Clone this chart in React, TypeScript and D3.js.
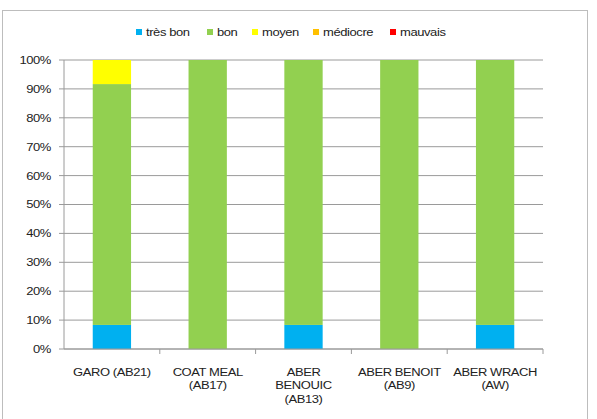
import React from "react";
import * as d3 from "d3";

// Stations along the x axis
const categories = ["GARO (AB21)", "COAT MEAL (AB17)", "ABER BENOUIC (AB13)", "ABER BENOIT (AB9)", "ABER WRACH (AW)"];
// Wrapped label lines per station
const categoryLines = [
  ["GARO (AB21)"],
  ["COAT MEAL", "(AB17)"],
  ["ABER", "BENOUIC", "(AB13)"],
  ["ABER BENOIT", "(AB9)"],
  ["ABER WRACH", "(AW)"],
];
// Quality classes (stacking order bottom → top)
const seriesNames = ["très bon", "bon", "moyen", "médiocre", "mauvais"];
const seriesColors = ["#00B0F0", "#92D050", "#FFFF00", "#FFC000", "#FF0000"];
// Share of each class per station (%)
const tresBon = [8.33, 0, 8.33, 0, 8.33];
const bon = [83.34, 100, 91.67, 100, 91.67];
const moyen = [8.33, 0, 0, 0, 0];
const mediocre = [0, 0, 0, 0, 0];
const mauvais = [0, 0, 0, 0, 0];
const yTicks = [0, 10, 20, 30, 40, 50, 60, 70, 80, 90, 100];

const W = 597;
const H = 419;
const FONT = "'Liberation Sans', Arial, sans-serif";
const SX = 1.15; // horizontal stretch of the lettering

function Label({ x, y, anchor = "start", children }: { x: number; y: number; anchor?: string; children: React.ReactNode }) {
  return (
    <g transform={`translate(${x},${y}) scale(${SX},1)`}>
      <text textAnchor={anchor} dy="0.35em" fontFamily={FONT} fontSize={11.3} fill="#222" letterSpacing={-0.35}>
        {children}
      </text>
    </g>
  );
}

export default function App() {
  const left = 64;
  const right = 543;
  const top = 60;
  const bottom = 349;

  const x = d3.scaleBand<string>().domain(categories).range([left, right]).paddingInner(0.6).paddingOuter(0.3);
  const band = d3.scaleBand<string>().domain(categories).range([left, right]);
  const y = d3.scaleLinear().domain([0, 100]).range([bottom, top]);

  const rows = categories.map((c, i) => ({
    cat: c,
    "très bon": tresBon[i],
    bon: bon[i],
    moyen: moyen[i],
    "médiocre": mediocre[i],
    mauvais: mauvais[i],
  }));
  const stacked = d3.stack<any>().keys(seriesNames)(rows);

  // legend layout
  const legendX = [136, 207, 252, 313, 390];
  const legendY = 32;

  return (
    <svg width={W} height={H} style={{ position: "absolute", left: 0, top: 0, background: "#fff" }}>
      <rect x={2.5} y={10.5} width={585} height={420} fill="#fff" stroke="#bdbdbd" strokeWidth={1} />

      {/* gridlines */}
      {yTicks.map((t) => (
        <g key={t}>
          <line x1={left - 5} x2={right} y1={y(t)} y2={y(t)} stroke="#9a9a9a" strokeWidth={1} />
          <Label x={51} y={y(t)} anchor="end">{t}%</Label>
        </g>
      ))}

      {/* bars */}
      {stacked.map((s, si) => (
        <g key={s.key} fill={seriesColors[si]}>
          {s.map((d, i) =>
            d[1] - d[0] > 0 ? (
              <rect key={i} x={x(categories[i])} width={x.bandwidth()} y={y(d[1])} height={y(d[0]) - y(d[1])} />
            ) : null
          )}
        </g>
      ))}

      {/* axes */}
      <line x1={left} x2={left} y1={top} y2={bottom} stroke="#9a9a9a" />
      <line x1={left} x2={right} y1={bottom} y2={bottom} stroke="#9a9a9a" />
      {categories.map((c) => (
        <line key={c} x1={(band(c) as number) + band.bandwidth()} x2={(band(c) as number) + band.bandwidth()} y1={bottom} y2={bottom + 5} stroke="#9a9a9a" />
      ))}

      {/* category labels */}
      {categories.map((c, i) =>
        categoryLines[i].map((ln, li) => (
          <Label key={c + li} x={(band(c) as number) + band.bandwidth() / 2} y={372 + li * 13.5} anchor="middle">
            {ln}
          </Label>
        ))
      )}

      {/* legend */}
      {seriesNames.map((n, i) => (
        <g key={n}>
          <rect x={legendX[i]} y={legendY - 3} width={6} height={6} fill={seriesColors[i]} />
          <Label x={legendX[i] + 10} y={legendY}>{n}</Label>
        </g>
      ))}
    </svg>
  );
}
